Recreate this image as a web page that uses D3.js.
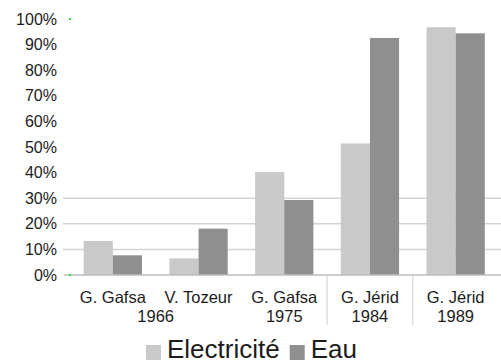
<!DOCTYPE html>
<html>
<head>
<meta charset="utf-8">
<script src="https://cdn.jsdelivr.net/npm/d3@7"></script>
<style>
  html, body { margin: 0; padding: 0; background: #fff; }
  svg { display: block; font-family: "Liberation Sans", Arial, sans-serif; }
</style>
</head>
<body>
<svg id="chart" width="501" height="364"></svg>
<script>
// Access to electricity and water (% of households), by site and year
const sites = ["G. Gafsa", "V. Tozeur", "G. Gafsa", "G. Jérid", "G. Jérid"];
const years = ["1966", "1975", "1984", "1989"];
const yearSpans = [[0, 1], [2, 2], [3, 3], [4, 4]];
const seriesNames = ["Electricité", "Eau"];
const electricite = [13.3, 6.5, 40.2, 51.4, 96.8];
const eau = [7.7, 18.1, 29.3, 92.6, 94.4];
const yTicks = [0, 10, 20, 30, 40, 50, 60, 70, 80, 90, 100];
const gridTicks = [10, 20, 30];
const colors = ["#c9c9c9", "#8f8f8f"];

const svg = d3.select("#chart");
const plotLeft = 70, plotRight = 498.5, plotTop = 19, plotBottom = 275;

const x = d3.scaleBand()
  .domain(d3.range(sites.length))
  .range([plotLeft, plotRight])
  .paddingInner(0.32)
  .paddingOuter(0.16);

const xs = d3.scaleBand()
  .domain(seriesNames)
  .range([0, x.bandwidth()]);

const y = d3.scaleLinear().domain([0, 100]).range([plotBottom, plotTop]);

// horizontal gridlines
svg.append("g")
  .selectAll("line")
  .data(gridTicks)
  .join("line")
  .attr("x1", 63).attr("x2", 501)
  .attr("y1", d => y(d)).attr("y2", d => y(d))
  .attr("stroke", "#d3d3d3")
  .attr("stroke-width", 1.5);

// y axis labels
const yAxis = d3.axisLeft(y).tickValues(yTicks).tickFormat(d => d + "%").tickSize(0).tickPadding(0);
const gy = svg.append("g").attr("transform", `translate(57,0)`).call(yAxis);
gy.select(".domain").remove();
gy.selectAll("text")
  .attr("font-size", 16)
  .attr("fill", "#1c1c1c")
  .attr("font-family", "'Liberation Sans', Arial, sans-serif");

// bars
const rows = sites.map((s, i) => ({ i, values: [electricite[i], eau[i]] }));
const groups = svg.append("g")
  .selectAll("g")
  .data(rows)
  .join("g")
  .attr("transform", d => `translate(${x(d.i)},0)`);

groups.selectAll("rect")
  .data(d => d.values.map((v, k) => ({ v, k })))
  .join("rect")
  .attr("x", d => xs(seriesNames[d.k]))
  .attr("width", xs.bandwidth())
  .attr("y", d => y(d.v))
  .attr("height", d => y(0) - y(d.v))
  .attr("fill", d => colors[d.k]);

// baseline
svg.append("line")
  .attr("x1", 64).attr("x2", 501)
  .attr("y1", y(0)).attr("y2", y(0))
  .attr("stroke", "#bdbdbd")
  .attr("stroke-width", 1.5);

// small markers at the axis ends
svg.append("g")
  .selectAll("rect")
  .data([100, 0])
  .join("rect")
  .attr("x", plotLeft - 1).attr("y", d => y(d) - 1)
  .attr("width", 2).attr("height", 2)
  .attr("fill", "#33dd44");

// group separators below the axis
const sepIdx = [3, 4];
svg.append("g")
  .selectAll("line")
  .data(sepIdx)
  .join("line")
  .attr("x1", d => x(d) - x.step() * x.paddingInner() / 2)
  .attr("x2", d => x(d) - x.step() * x.paddingInner() / 2)
  .attr("y1", y(0)).attr("y2", 325)
  .attr("stroke", "#cfcfcf")
  .attr("stroke-width", 1);

// category labels
svg.append("g")
  .selectAll("text")
  .data(sites)
  .join("text")
  .attr("x", (d, i) => x(i) + x.bandwidth() / 2)
  .attr("y", 303)
  .attr("text-anchor", "middle")
  .attr("font-size", 16.5)
  .attr("fill", "#1c1c1c")
  .text(d => d);

svg.append("g")
  .selectAll("text")
  .data(years)
  .join("text")
  .attr("x", (d, j) => {
    const [a, b] = yearSpans[j];
    return (x(a) + x(b) + x.bandwidth()) / 2;
  })
  .attr("y", 322)
  .attr("text-anchor", "middle")
  .attr("font-size", 16.5)
  .attr("fill", "#1c1c1c")
  .text(d => d);

// legend
const legend = svg.append("g").attr("transform", "translate(146,0)");
let cx = 0;
seriesNames.forEach((name, k) => {
  legend.append("rect")
    .attr("x", cx).attr("y", 345)
    .attr("width", 15).attr("height", 15)
    .attr("fill", colors[k]);
  const t = legend.append("text")
    .attr("x", cx + 21).attr("y", 358)
    .attr("font-size", 26)
    .attr("fill", "#1c1c1c")
    .text(name);
  cx += 21 + t.node().getComputedTextLength() + 10;
});
</script>
</body>
</html>
